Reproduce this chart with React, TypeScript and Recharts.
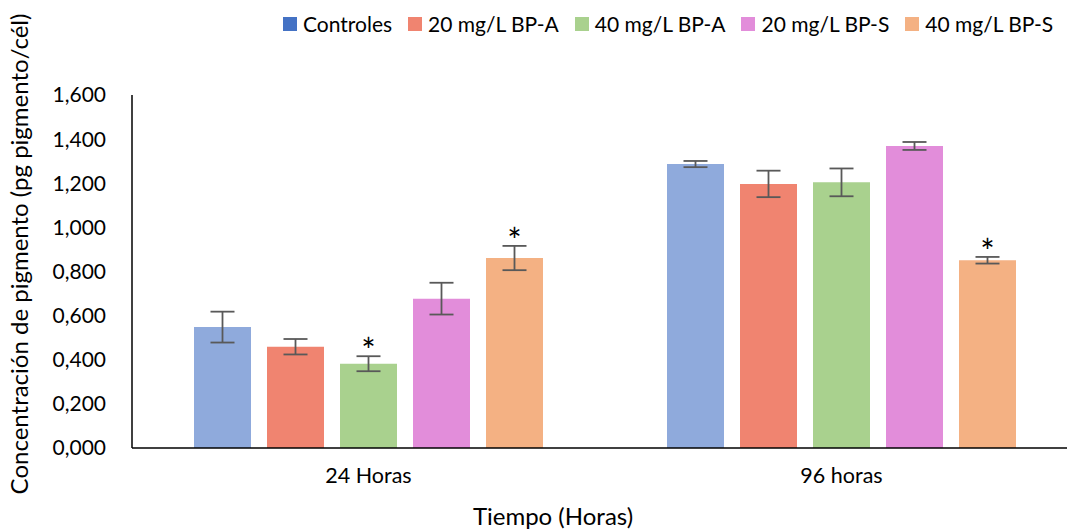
import React from "react";
import { Bar, BarChart, ErrorBar, LabelList, XAxis, YAxis } from "recharts";

const categories = ["24 Horas", "96 horas"];
const seriesNames = ["Controles", "20 mg/L BP-A", "40 mg/L BP-A", "20 mg/L BP-S", "40 mg/L BP-S"];
const controles = [0.548, 1.287];
const bpa20 = [0.459, 1.197];
const bpa40 = [0.382, 1.204];
const bps20 = [0.677, 1.369];
const bps40 = [0.861, 0.851];
const errControles = [0.07, 0.014];
const errBpa20 = [0.035, 0.06];
const errBpa40 = [0.034, 0.063];
const errBps20 = [0.072, 0.018];
const errBps40 = [0.055, 0.015];
const sigBpa40 = [true, false];
const sigBps40 = [true, true];
const yTicks = [0, 0.2, 0.4, 0.6, 0.8, 1.0, 1.2, 1.4, 1.6];

const barColors = ["#8FAADC", "#F08470", "#A9D18E", "#E28DDA", "#F4B183"];
const legendColors = ["#4472C4", "#F08470", "#A9D18E", "#E28DDA", "#F4B183"];

const values = [controles, bpa20, bpa40, bps20, bps40];
const errors = [errControles, errBpa20, errBpa40, errBps20, errBps40];
const sigs: (boolean[] | null)[] = [null, null, sigBpa40, null, sigBps40];

const data = categories.map((name, i) => {
  const row: Record<string, any> = { name };
  values.forEach((v, s) => {
    row["v" + s] = v[i];
    row["e" + s] = errors[s][i];
    row["s" + s] = sigs[s] ? (sigs[s] as boolean[])[i] : false;
  });
  return row;
});

const FONT = "Lato, 'Open Sans', sans-serif";

const fmt = (v: number) => v.toFixed(3).replace(".", ",");

function makeStar(s: number) {
  return (props: any) => {
    const { x, y, width, height, index } = props;
    const row = data[index];
    if (!row["s" + s]) return null;
    const pxPerUnit = height / row["v" + s];
    const top = y - row["e" + s] * pxPerUnit;
    return (
      <text x={x + width / 2} y={top + 7} textAnchor="middle" fontSize={34} fontFamily={FONT} fill="#000">
        *
      </text>
    );
  };
}

export default function App() {
  return (
    <div style={{ position: "absolute", left: 0, top: 0, width: 1067, height: 530, overflow: "hidden", background: "#fff" }}>
      <div
        style={{
          position: "absolute",
          top: 11,
          left: 283,
          display: "flex",
          alignItems: "center",
          fontFamily: FONT,
          fontSize: 21,
          color: "#000",
          whiteSpace: "nowrap",
        }}
      >
        {seriesNames.map((n, i) => (
          <div key={n} style={{ display: "flex", alignItems: "center", marginRight: 16 }}>
            <span style={{ display: "inline-block", width: 14, height: 14, background: legendColors[i], marginRight: 6 }} />
            <span>{n}</span>
          </div>
        ))}
      </div>
      <BarChart
        width={1090}
        height={530}
        data={data}
        margin={{ top: 95, right: 12, bottom: 52, left: 0 }}
        barGap={16}
        barCategoryGap={62}
      >
        <XAxis
          dataKey="name"
          axisLine={{ stroke: "#000", strokeWidth: 1.5 }}
          tickLine={false}
          tickMargin={14}
          tick={{ fontSize: 21.5, fontFamily: FONT, fill: "#000" }}
        />
        <YAxis
          width={132}
          domain={[0, 1.6]}
          ticks={yTicks}
          tickFormatter={fmt}
          axisLine={{ stroke: "#000", strokeWidth: 1.5 }}
          tickLine={false}
          tickMargin={20}
          tick={{ fontSize: 21, fontFamily: FONT, fill: "#000" }}
        />
        {values.map((_, s) => (
          <Bar key={s} dataKey={"v" + s} name={seriesNames[s]} fill={barColors[s]} isAnimationActive={false}>
            <ErrorBar dataKey={"e" + s} width={12} strokeWidth={1.8} stroke="#595959" direction="y" />
            {sigs[s] && <LabelList dataKey={"s" + s} content={makeStar(s)} />}
          </Bar>
        ))}
      </BarChart>
      <svg width={1067} height={530} style={{ position: "absolute", left: 0, top: 0, pointerEvents: "none" }}>
        <text
          transform="translate(28,254) rotate(-90)"
          textAnchor="middle"
          fontSize={24}
          fontFamily={FONT}
          fill="#000"
        >
          Concentración de pigmento (pg pigmento/cél)
        </text>
        <text x={553} y={525} textAnchor="middle" fontSize={24} fontFamily={FONT} fill="#000">
          Tiempo (Horas)
        </text>
      </svg>
    </div>
  );
}
